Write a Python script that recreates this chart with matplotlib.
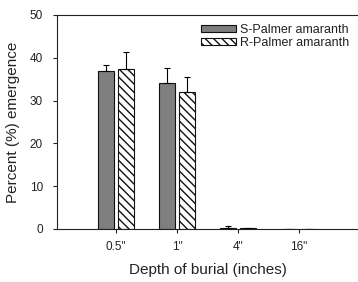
import matplotlib
matplotlib.use("Agg")
import matplotlib.pyplot as plt
import numpy as np

depths = ['0.5"', '1"', '4"', '16"']
s_vals = [36.9, 34.1, 0.3, 0.0]
s_err = [1.4, 3.5, 0.3, 0.0]
r_vals = [37.3, 32.0, 0.2, 0.0]
r_err = [4.0, 3.5, 0.0, 0.0]


def main():
    plt.rcParams['font.family'] = ['Liberation Sans', 'DejaVu Sans']
    plt.rcParams['hatch.linewidth'] = 1.0
    plt.rcParams['text.color'] = "#222222"
    plt.rcParams['axes.labelcolor'] = "#222222"
    plt.rcParams['xtick.color'] = "#222222"
    plt.rcParams['ytick.color'] = "#222222"

    fig = plt.figure(figsize=(3.58, 2.82), dpi=100)
    ax = fig.add_axes([0.159, 0.188, 0.841, 0.759])

    x = np.arange(1, len(depths) + 1)
    w = 0.26
    ax.bar(x - 0.16, s_vals, w, color="#7f7f7f", edgecolor="#111111", linewidth=0.8,
           yerr=[np.zeros(4), s_err], error_kw=dict(capsize=2.5, elinewidth=0.8, capthick=0.8),
           label="S-Palmer amaranth")
    ax.bar(x + 0.17, r_vals, w, color="white", edgecolor="#111111", linewidth=0.8, hatch="\\\\\\\\",
           yerr=[np.zeros(4), r_err], error_kw=dict(capsize=2.5, elinewidth=0.8, capthick=0.8),
           label="R-Palmer amaranth")

    ax.set_xlim(0.03, 4.97)
    ax.set_ylim(0, 50)
    ax.set_xticks(x)
    ax.set_xticklabels(depths, fontsize=8.5)
    ax.set_yticks(range(0, 51, 10))
    ax.tick_params(axis="y", labelsize=8.5, length=3, width=0.8, pad=7)
    ax.tick_params(axis="x", length=3, width=0.8, pad=6)
    ax.spines["right"].set_visible(False)
    for s in ["left", "top", "bottom"]:
        ax.spines[s].set_linewidth(0.8)
        ax.spines[s].set_color("#222222")

    ax.set_xlabel("Depth of burial (inches)", fontsize=11, labelpad=7)
    ax.set_ylabel("Percent (%) emergence", fontsize=11, labelpad=7)
    ax.legend(loc="upper right", frameon=False, fontsize=9, handlelength=2.8,
              handleheight=0.5, labelspacing=0.1, borderaxespad=0.3, handletextpad=0.3)

    fig.savefig("out.png", dpi=100)


if __name__ == "__main__":
    main()
